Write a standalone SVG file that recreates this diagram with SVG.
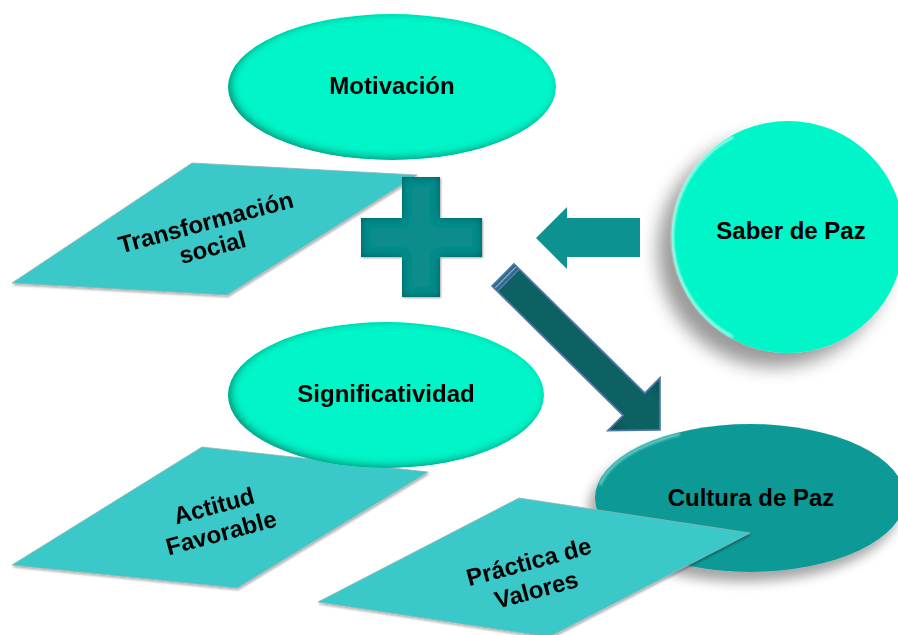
<svg xmlns="http://www.w3.org/2000/svg" width="898" height="635" viewBox="0 0 898 635">
  <style>
    .lbl { font-family: "Liberation Sans", Arial, sans-serif; font-weight: bold; font-size: 24px; fill: #000; text-anchor: middle; }
    .bright { fill: #02f5c8; }
    .para { fill: #3ac8c8; stroke: #8fb8b8; stroke-width: 0.8; }
  </style>
  <defs>
    <filter id="innerEl" x="-10%" y="-10%" width="120%" height="120%">
      <feGaussianBlur in="SourceAlpha" stdDeviation="4"/>
      <feOffset dx="3" dy="-2" result="ob"/>
      <feComposite in="SourceAlpha" in2="ob" operator="arithmetic" k2="1" k3="-1" result="edge"/>
      <feFlood flood-color="#0b6e5d" flood-opacity="0.95"/>
      <feComposite in2="edge" operator="in" result="sh"/>
      <feMerge><feMergeNode in="SourceGraphic"/><feMergeNode in="sh"/></feMerge>
    </filter>
    <filter id="innerPlus" x="-10%" y="-10%" width="120%" height="120%">
      <feGaussianBlur in="SourceAlpha" stdDeviation="4" result="b"/>
      <feComposite in="SourceAlpha" in2="b" operator="arithmetic" k2="1" k3="-1" result="edge"/>
      <feFlood flood-color="#033f3f" flood-opacity="0.8"/>
      <feComposite in2="edge" operator="in" result="sh"/>
      <feGaussianBlur in="SourceAlpha" stdDeviation="1"/>
      <feOffset dx="1" dy="1"/>
      <feComponentTransfer><feFuncA type="linear" slope="0.35"/></feComponentTransfer>
      <feMerge><feMergeNode/><feMergeNode in="SourceGraphic"/><feMergeNode in="sh"/></feMerge>
    </filter>
    <filter id="shadowBig" x="-30%" y="-30%" width="160%" height="160%">
      <feGaussianBlur in="SourceAlpha" stdDeviation="9"/>
      <feOffset dx="-14" dy="14"/>
      <feComponentTransfer><feFuncA type="linear" slope="0.4"/></feComponentTransfer>
      <feMerge><feMergeNode/><feMergeNode in="SourceGraphic"/></feMerge>
    </filter>
    <filter id="shadowMid" x="-20%" y="-20%" width="140%" height="150%">
      <feGaussianBlur in="SourceAlpha" stdDeviation="6"/>
      <feOffset dx="-6" dy="10"/>
      <feComponentTransfer><feFuncA type="linear" slope="0.35"/></feComponentTransfer>
      <feMerge><feMergeNode/><feMergeNode in="SourceGraphic"/></feMerge>
    </filter>
    <filter id="shadowSmall" x="-10%" y="-10%" width="120%" height="130%">
      <feGaussianBlur in="SourceAlpha" stdDeviation="1"/>
      <feOffset dx="1" dy="2"/>
      <feComponentTransfer><feFuncA type="linear" slope="0.3"/></feComponentTransfer>
      <feMerge><feMergeNode/><feMergeNode in="SourceGraphic"/></feMerge>
    </filter>
    <filter id="soft" x="-10%" y="-10%" width="120%" height="120%">
      <feGaussianBlur stdDeviation="0.8"/>
    </filter>
    <linearGradient id="diagGrad" x1="0" y1="0" x2="0" y2="1">
      <stop offset="0" stop-color="#0a4f52"/>
      <stop offset="0.25" stop-color="#0d6163"/>
      <stop offset="0.75" stop-color="#0d6163"/>
      <stop offset="1" stop-color="#0a4f52"/>
    </linearGradient>
  </defs>

  <g id="motivacion" filter="url(#innerEl)">
    <ellipse class="bright" cx="392" cy="87" rx="164" ry="73"/>
    <text class="lbl" x="392" y="94">Motivación</text>
  </g>

  <g id="transformacion" filter="url(#shadowSmall)">
    <polygon class="para" points="192,163 417,175 227,295 12,283"/>
    <g transform="translate(209,234.5) rotate(-15)">
      <text class="lbl" x="0" y="-4.5">Transformación</text>
      <text class="lbl" x="0" y="21.5">social</text>
    </g>
  </g>

  <g id="mas" filter="url(#innerPlus)">
    <path d="M402,177 H440 V218 H482 V257 H440 V297 H402 V257 H361 V218 H402 Z" fill="#0a8c8c"/>
  </g>

  <g id="saber">
    <circle cx="788" cy="237" r="116" fill="#02f5c8" filter="url(#shadowBig)"/>
    <path d="M733,137 A113,113 0 0 0 733,337" fill="none" stroke="#d8fff4" stroke-width="2.5" opacity="0.85" filter="url(#soft)"/>
    <text class="lbl" x="791" y="239">Saber de Paz</text>
  </g>

  <g id="actitud" filter="url(#shadowSmall)">
    <polygon class="para" points="202,447 428,472 237,588 12,565"/>
    <g transform="translate(217.5,519) rotate(-15)">
      <text class="lbl" x="0" y="-5.5">Actitud</text>
      <text class="lbl" x="0" y="22.5">Favorable</text>
    </g>
  </g>

  <g id="significatividad" filter="url(#innerEl)">
    <ellipse class="bright" cx="386" cy="395" rx="158" ry="73"/>
    <text class="lbl" x="386" y="402">Significatividad</text>
  </g>

  <g id="cultura">
    <ellipse cx="750" cy="498" rx="155" ry="74" fill="#0e9a96" filter="url(#shadowMid)"/>
    <path d="M600,485 A153,72 0 0 1 680,434" fill="none" stroke="#7fd6d2" stroke-width="2.5" opacity="0.9" filter="url(#soft)"/>
    <text class="lbl" x="751" y="506">Cultura de Paz</text>
  </g>

  <g id="practica" filter="url(#shadowSmall)">
    <polygon class="para" points="519,498 750,533 549,637 318,602"/>
    <g transform="translate(532.5,575.5) rotate(-15)">
      <text class="lbl" x="0" y="-6">Práctica de</text>
      <text class="lbl" x="0" y="23">Valores</text>
    </g>
  </g>

  <g id="conectores">
    <polygon points="536,238 567,207 567,218 640,218 640,257 567,257 567,269" fill="#0d9292"/>
    <g transform="translate(503,275) rotate(44.63)">
      <polygon points="0,-15.5 184,-15.5 184,-37 220.6,0 184,37 184,15.5 0,15.5" fill="url(#diagGrad)" stroke="#4f78a8" stroke-width="1.8" stroke-linejoin="miter"/>
      <rect x="0.9" y="-14.6" width="7" height="29.2" fill="#2f6b8c"/>
      <line x1="3.5" y1="-14.6" x2="3.5" y2="14.6" stroke="#8fb2d6" stroke-width="1.2"/>
      <line x1="7.5" y1="-14.6" x2="7.5" y2="14.6" stroke="#5f88b8" stroke-width="1"/>
    </g>
  </g>
</svg>
